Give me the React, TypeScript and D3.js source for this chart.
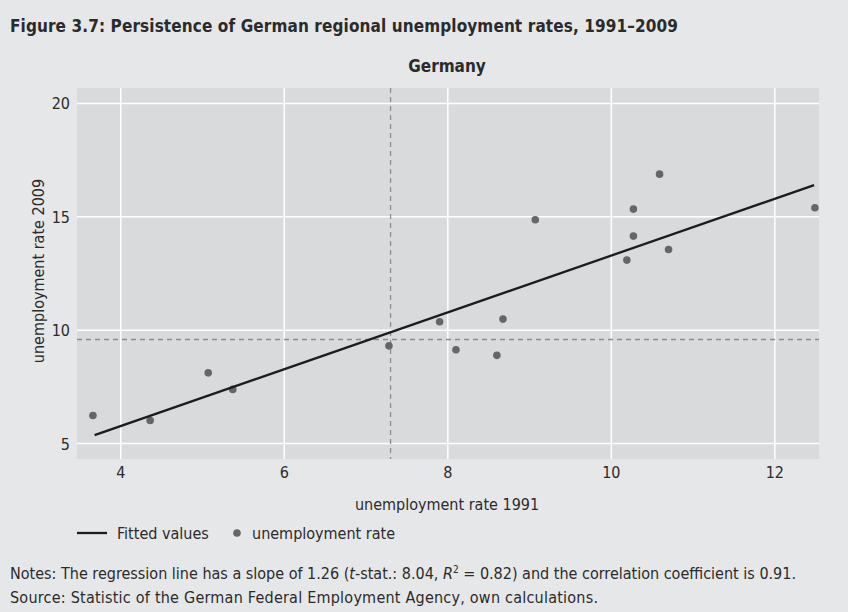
import React, { useEffect } from "react";
import * as d3 from "d3";

// ---- data ----
const rate1991: number[] = [3.66, 4.36, 5.07, 5.37, 7.28, 7.9, 8.1, 8.6, 8.675, 9.07, 10.19, 10.27, 10.27, 10.59, 10.7, 12.49];
const rate2009: number[] = [6.24, 6.02, 8.12, 7.39, 9.31, 10.37, 9.14, 8.89, 10.49, 14.87, 13.09, 15.34, 14.15, 16.88, 13.56, 15.4];
const fittedX: number[] = [3.68, 12.48];
const fittedY: number[] = [5.37, 16.4];
const refX = 7.3; // vertical dashed reference
const refY = 9.59; // horizontal dashed reference
const xTicks: number[] = [4, 6, 8, 10, 12];
const yTicks: number[] = [5, 10, 15, 20];

const W = 848;
const H = 612;
const FONT = "'DejaVu Sans Condensed', 'Liberation Sans Narrow', sans-serif";
const TEXT = "#2b2b2b";

export default function App() {
  useEffect(() => {
    document.body.style.margin = "0";
  }, []);

  const plot = { left: 77, right: 819, top: 88, bottom: 459 };
  const x = d3.scaleLinear().domain([3.465, 12.54]).range([plot.left, plot.right]);
  const y = d3.scaleLinear().domain([4.32, 20.68]).range([plot.bottom, plot.top]);

  const line = d3
    .line<number>()
    .x((d) => x(fittedX[d]))
    .y((d) => y(fittedY[d]));

  return (
    <svg width={W} height={H} style={{ display: "block", position: "absolute", left: 0, top: 0 }} fontFamily={FONT}>
      <rect x={0} y={0} width={W} height={H} fill="#e6e7e8" />
      <text x={10} y={32} fontSize={17} fontWeight="bold" fill={TEXT} textLength={668} lengthAdjust="spacing">
        Figure 3.7: Persistence of German regional unemployment rates, 1991–2009
      </text>
      <text x={447} y={72} fontSize={17} fontWeight="bold" fill={TEXT} textAnchor="middle">
        Germany
      </text>

      <rect x={plot.left} y={plot.top} width={plot.right - plot.left} height={plot.bottom - plot.top} fill="#d9dadc" />
      {xTicks.map((t) => (
        <line key={"gx" + t} x1={x(t)} x2={x(t)} y1={plot.top} y2={plot.bottom} stroke="#ffffff" strokeWidth={1.5} />
      ))}
      {yTicks.map((t) => (
        <line key={"gy" + t} x1={plot.left} x2={plot.right} y1={y(t)} y2={y(t)} stroke="#ffffff" strokeWidth={1.5} />
      ))}
      <line x1={x(refX)} x2={x(refX)} y1={plot.top} y2={plot.bottom} stroke="#8c8c8e" strokeWidth={1.3} strokeDasharray="5,4" />
      <line x1={plot.left} x2={plot.right} y1={y(refY)} y2={y(refY)} stroke="#8c8c8e" strokeWidth={1.3} strokeDasharray="5,4" />

      {rate1991.map((v, i) => (
        <circle key={"p" + i} cx={x(v)} cy={y(rate2009[i])} r={3.8} fill="#656668" />
      ))}
      <path d={line([0, 1]) || ""} fill="none" stroke="#1e1b1c" strokeWidth={2.3} />

      {yTicks.map((t) => (
        <text key={"ly" + t} x={70} y={y(t) + 6} fontSize={16} fill={TEXT} textAnchor="end">
          {t}
        </text>
      ))}
      {xTicks.map((t) => (
        <text key={"lx" + t} x={x(t)} y={478} fontSize={16} fill={TEXT} textAnchor="middle">
          {t}
        </text>
      ))}
      <text x={447} y={510} fontSize={16} fill={TEXT} textAnchor="middle">
        unemployment rate 1991
      </text>
      <text transform="translate(44,271) rotate(-90)" fontSize={16} fill={TEXT} textAnchor="middle">
        unemployment rate 2009
      </text>

      <line x1={77} x2={107} y1={533} y2={533} stroke="#1e1b1c" strokeWidth={2.3} />
      <text x={117} y={539} fontSize={16} fill={TEXT}>
        Fitted values
      </text>
      <circle cx={237} cy={533} r={3.8} fill="#656668" />
      <text x={252} y={539} fontSize={16} fill={TEXT}>
        unemployment rate
      </text>

      <text x={10} y={579} fontSize={16} fill={TEXT}>
        Notes: The regression line has a slope of 1.26 (<tspan fontStyle="italic">t</tspan>-stat.: 8.04,{" "}
        <tspan fontStyle="italic">R</tspan>
        <tspan fontSize={10} dy={-6}>2</tspan>
        <tspan dy={6}> = 0.82) and the correlation coefficient is 0.91.</tspan>
      </text>
      <text x={10} y={603} fontSize={16} fill={TEXT} textLength={588} lengthAdjust="spacing">
        Source: Statistic of the German Federal Employment Agency, own calculations.
      </text>
    </svg>
  );
}
